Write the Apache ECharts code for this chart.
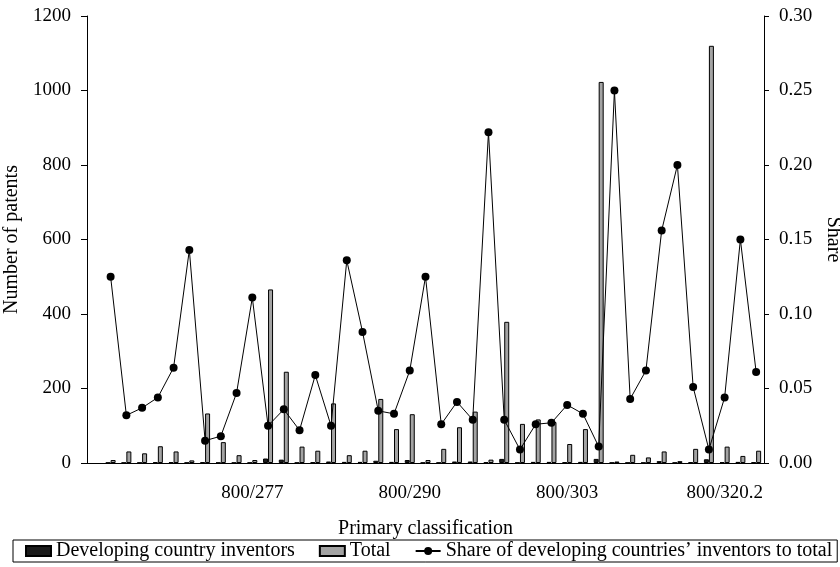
<!DOCTYPE html>
<html lang="en">
<head>
    <meta charset="UTF-8">
    <title>Patents by primary classification</title>
    <script type="text/javascript" src="https://cdn.jsdelivr.net/npm/echarts@6/dist/echarts.min.js"></script>
    <style>
        html, body { margin: 0; padding: 0; background: #fff; }
    </style>
</head>
<body>
<div id="patents" style="width: 840px;height:567px;"></div>

<script type="text/javascript">
    // categories: first slot is empty, only every tenth code is labelled in the source
    var categories = ['', '', '', '', '', '', '', '', '', '', '800/277',
        '', '', '', '', '', '', '', '', '', '800/290',
        '', '', '', '', '', '', '', '', '', '800/303',
        '', '', '', '', '', '', '', '', '', '800/320.2',
        '', ''];

    var developing = [null, 1, 1, 1, 2, 2, 1, 2, 1, 1, 1, 12,
        9, 1, 2, 4, 3, 3, 6, 3, 8, 1, 1,
        4, 4, 2, 11, 1, 3, 3, 2, 3, 11,
        1, 1, 1, 5, 1, 2, 10, 2, 3, 2];

    var total = [null, 8, 31, 26, 45, 31, 7, 133, 56, 21, 8, 466,
        245, 44, 33, 160, 21, 33, 172, 91, 131, 8, 38,
        96, 138, 9, 379, 105, 117, 110, 51, 91, 1023,
        4, 22, 15, 31, 5, 38, 1120, 44, 19, 33];

    var share = [null, 0.125, 0.032, 0.037, 0.044, 0.064, 0.143, 0.015, 0.018, 0.047, 0.111, 0.025,
        0.036, 0.022, 0.059, 0.025, 0.136, 0.088, 0.035, 0.033, 0.062, 0.125, 0.026,
        0.041, 0.029, 0.222, 0.029, 0.009, 0.026, 0.027, 0.039, 0.033, 0.011,
        0.250, 0.043, 0.062, 0.156, 0.200, 0.051, 0.009, 0.044, 0.150, 0.061];

    var serif = 'Liberation Serif';
    var myChart = echarts.init(document.getElementById('patents'));

    myChart.setOption({
        animation: false,
        textStyle: {fontFamily: serif, color: '#000'},
        grid: {left: 87, right: 76, top: 16, bottom: 104, outerBoundsMode: 'none', containLabel: false},
        legend: {
            left: 13, top: 540,
            padding: [1, 5, 1, 12],
            borderColor: '#000', borderWidth: 1,
            itemGap: 24, itemWidth: 25, itemHeight: 10,
            textStyle: {fontFamily: serif, fontSize: 20, color: '#000'},
            data: [
                {name: 'Developing country inventors', icon: 'rect'},
                {name: 'Total', icon: 'rect'},
                {name: 'Share of developing countries\u2019 inventors to total'}
            ]
        },
        xAxis: {
            type: 'category',
            data: categories,
            name: 'Primary classification',
            nameLocation: 'middle',
            nameGap: 56,
            nameTextStyle: {fontSize: 20, color: '#000'},
            axisLine: {lineStyle: {color: '#000'}},
            axisTick: {interval: 0, length: 6, lineStyle: {color: '#000'}},
            axisLabel: {interval: 9, fontSize: 19, color: '#000', margin: 21}
        },
        yAxis: [{
            type: 'value',
            min: 0, max: 1200, interval: 200,
            name: 'Number of patents',
            nameLocation: 'middle',
            nameGap: 62,
            nameRotate: 90,
            nameTextStyle: {fontSize: 20, color: '#000'},
            axisLine: {show: true, lineStyle: {color: '#000'}},
            axisTick: {show: true, length: 6, lineStyle: {color: '#000'}},
            splitLine: {show: false},
            axisLabel: {
                fontSize: 19, color: '#000', margin: 16,
                formatter: function (v) { return String(v); }
            }
        }, {
            type: 'value',
            min: 0, max: 0.3, interval: 0.05,
            position: 'right',
            name: 'Share',
            nameLocation: 'middle',
            nameGap: 50,
            nameRotate: -90,
            nameTextStyle: {fontSize: 20, color: '#000'},
            axisLine: {show: true, lineStyle: {color: '#000'}},
            axisTick: {show: true, length: 5, lineStyle: {color: '#000'}},
            splitLine: {show: false},
            axisLabel: {
                fontSize: 19, color: '#000', margin: 15,
                formatter: function (v) { return v.toFixed(2); }
            }
        }],
        series: [{
            name: 'Developing country inventors',
            type: 'bar',
            data: developing,
            barWidth: 5,
            barGap: '0%',
            itemStyle: {color: '#1a1a1a', borderColor: '#000', borderWidth: 1}
        }, {
            name: 'Total',
            type: 'bar',
            data: total,
            barWidth: 5,
            barGap: '0%',
            itemStyle: {color: '#a3a3a3', borderColor: '#000', borderWidth: 1}
        }, {
            name: 'Share of developing countries\u2019 inventors to total',
            type: 'line',
            yAxisIndex: 1,
            data: share,
            symbol: 'circle',
            symbolSize: 8,
            z: 5,
            lineStyle: {color: '#000', width: 1},
            itemStyle: {color: '#000'}
        }]
    });
</script>
</body>
</html>
